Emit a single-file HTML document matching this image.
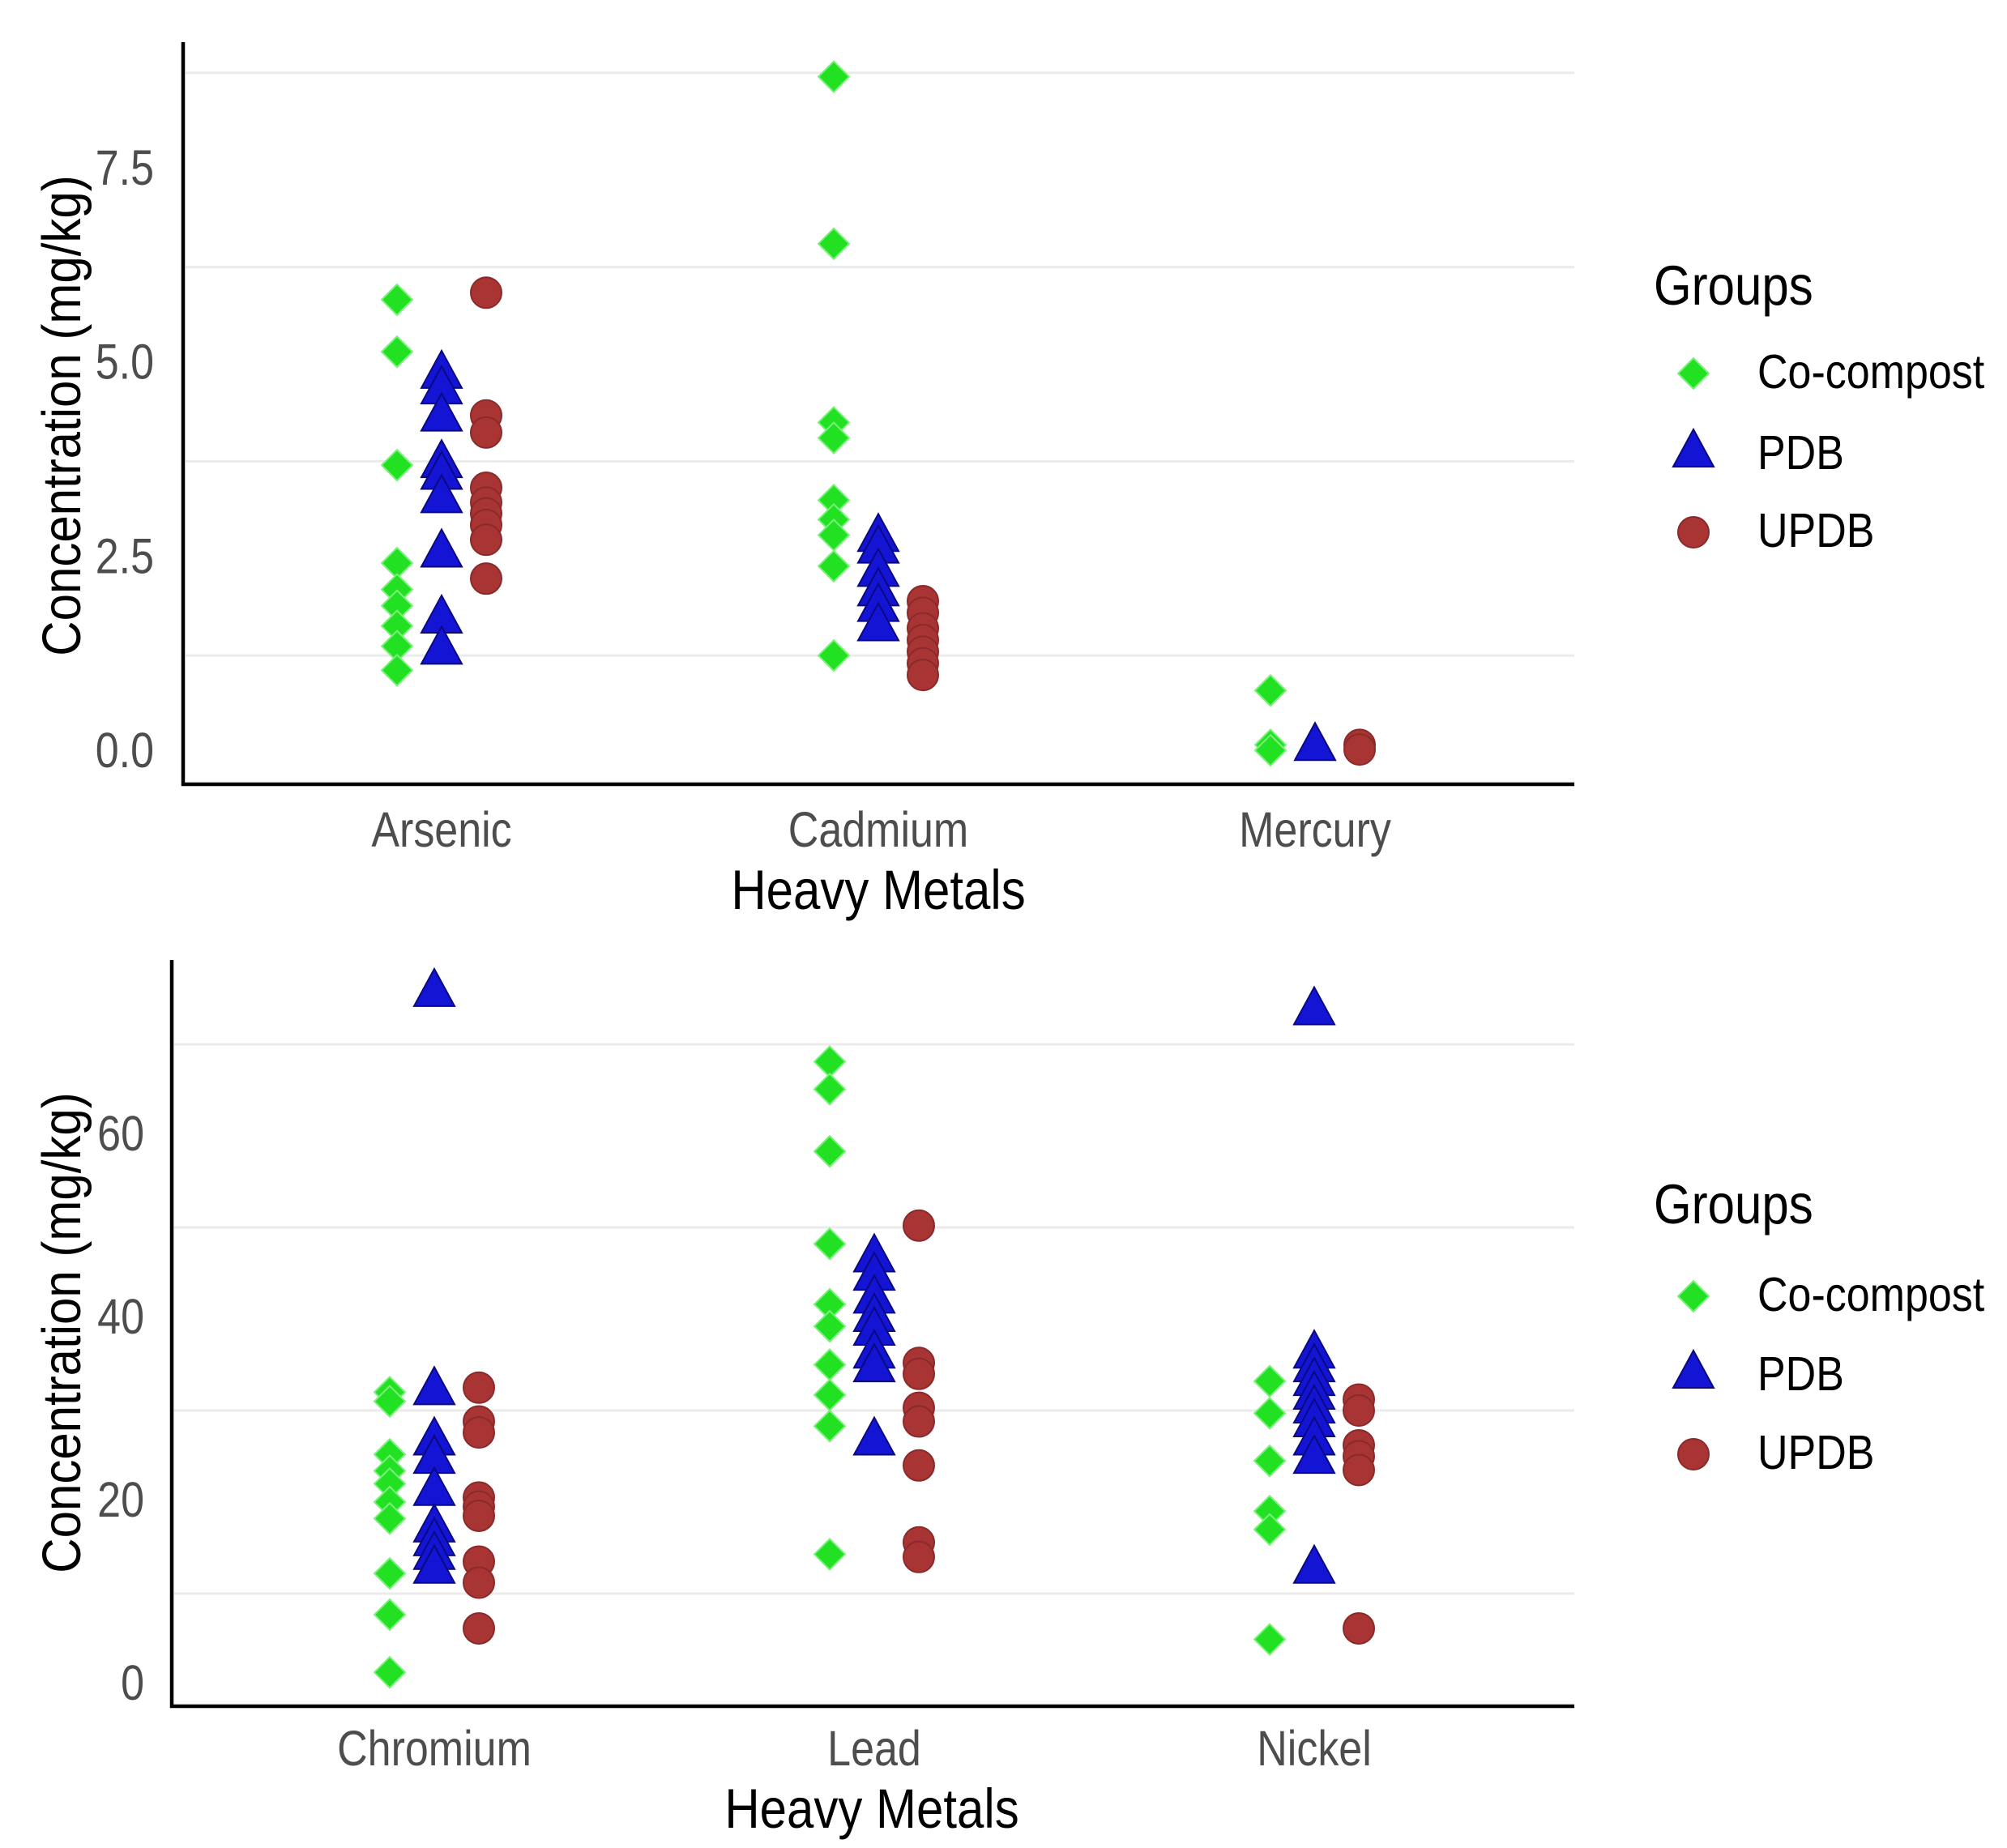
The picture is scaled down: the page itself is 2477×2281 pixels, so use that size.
<!DOCTYPE html>
<html>
<head>
<meta charset="utf-8">
<style>
  html,body{margin:0;padding:0;background:#fff;}
  svg{display:block;}
  text{font-family:"Liberation Sans",Arial,sans-serif;}
</style>
</head>
<body>
<svg id="chart" xmlns="http://www.w3.org/2000/svg" width="2477" height="2281" viewBox="0 0 2477 2281">
  <rect x="0" y="0" width="2477" height="2281" fill="#ffffff"/>
</svg>
<script>
// ---------- data ----------
const groups = ["Co-compost", "PDB", "UPDB"];
const topCategories = ["Arsenic", "Cadmium", "Mercury"];
const bottomCategories = ["Chromium", "Lead", "Nickel"];
const topTicks = [0, 2.5, 5, 7.5];
const topTickLabels = ["0.0", "2.5", "5.0", "7.5"];
const topGrid = [1.25, 3.75, 6.25, 8.75];
const bottomTicks = [0, 20, 40, 60];
const bottomTickLabels = ["0", "20", "40", "60"];
const bottomGrid = [10, 30, 50, 70];

const arsenicCo = [5.83, 5.16, 3.70, 2.44, 2.10, 1.89, 1.63, 1.37, 1.06];
const arsenicPDB = [4.85, 4.65, 4.30, 3.70, 3.55, 3.25, 2.55, 1.70, 1.30];
const arsenicUPDB = [5.92, 4.34, 4.12, 3.41, 3.22, 3.08, 2.93, 2.74, 2.24];
const cadmiumCo = [8.70, 6.55, 4.25, 4.05, 3.25, 3.00, 2.80, 2.40, 1.25];
const cadmiumPDB = [2.75, 2.60, 2.30, 2.05, 1.85, 1.60];
const cadmiumUPDB = [1.95, 1.80, 1.60, 1.45, 1.30, 1.15, 1.00];
const mercuryCo = [0.80, 0.10, 0.03];
const mercuryPDB = [0.06];
const mercuryUPDB = [0.10, 0.04];

const chromiumCo = [32.0, 31.0, 25.2, 23.4, 22.0, 20.0, 18.2, 12.2, 7.7, 1.4];
const chromiumPDB = [75.5, 32.0, 26.5, 24.5, 21.0, 17.0, 15.5, 14.0, 12.5];
const chromiumUPDB = [32.5, 28.8, 27.6, 20.5, 19.5, 18.5, 13.5, 11.2, 6.2];
const leadCo = [68.1, 65.1, 58.3, 48.2, 41.6, 39.2, 35.0, 31.7, 28.3, 14.3];
const leadPDB = [46.5, 44.5, 42.0, 40.0, 38.5, 36.0, 34.5, 26.5];
const leadUPDB = [50.2, 35.2, 34.0, 30.3, 28.8, 24.0, 15.6, 14.0];
const nickelCo = [33.2, 29.7, 24.5, 19.0, 17.0, 5.0];
const nickelPDB = [73.5, 36.0, 34.5, 33.0, 31.5, 30.0, 28.5, 26.5, 24.5, 12.5];
const nickelUPDB = [31.2, 30.0, 26.2, 25.0, 23.5, 6.2];

const topSeries = [[arsenicCo, arsenicPDB, arsenicUPDB],[cadmiumCo, cadmiumPDB, cadmiumUPDB],[mercuryCo, mercuryPDB, mercuryUPDB]];
const bottomSeries = [[chromiumCo, chromiumPDB, chromiumUPDB],[leadCo, leadPDB, leadUPDB],[nickelCo, nickelPDB, nickelUPDB]];

// ---------- drawing ----------
const NS = "http://www.w3.org/2000/svg";
const svg = document.getElementById("chart");
const COLORS = ["#22e022", "#1414d4", "#a83434"];
const STROKES = ["#44c844", "#0a0a80", "#8a2a2a"];

function mk(tag, attrs, parent){
  const e = document.createElementNS(NS, tag);
  for (const k in attrs) e.setAttribute(k, attrs[k]);
  (parent||svg).appendChild(e);
  return e;
}

function marker(g, gi, cx, cy, parent){
  let m;
  if (gi === 0){
    m = mk("polygon", {points:`${cx},${cy-19} ${cx+19},${cy} ${cx},${cy+19} ${cx-19},${cy}`, fill:COLORS[0], stroke:"#7cf07c", "stroke-width":2}, parent);
  } else if (gi === 1){
    m = mk("polygon", {points:`${cx},${cy-31} ${cx+25},${cy+15} ${cx-25},${cy+15}`, fill:COLORS[1], stroke:STROKES[1], "stroke-width":2}, parent);
  } else {
    m = mk("circle", {cx:cx, cy:cy, r:19, fill:COLORS[2], stroke:STROKES[2], "stroke-width":2}, parent);
  }
  return m;
}

function panel(cfg){
  const p = mk("g", {});
  
  
  const yS = v => cfg.y0 - v * cfg.k;
  const xS = i => cfg.xc0 + i * cfg.dx;
  cfg.grid.forEach(v => {
    const l = mk("line", {x1:cfg.left+3, x2:cfg.right, y1:yS(v), y2:yS(v), stroke:"#ebebeb", "stroke-width":3}, p);
    
    
  });
  cfg.ticks.forEach((v, i) => {
    const t = mk("text", {transform:`translate(${cfg.tickRight},${yS(v)+18}) scale(1,1.18)`, "text-anchor":"end", "font-size":52, fill:"#4d4d4d"}, p);
    t.textContent = cfg.tickLabels[i];
    
    
  });
  cfg.cats.forEach((c, i) => {
    const t = mk("text", {transform:`translate(${xS(i)},${cfg.catY}) scale(1,1.18)`, "text-anchor":"middle", "font-size":52, fill:"#4d4d4d"}, p);
    t.textContent = c;
    
    
  });
  cfg.series.forEach((cat, ci) => {
    cat.forEach((vals, gi) => {
      vals.forEach(v => {
        const m = marker(null, gi, xS(ci) + (gi-1)*cfg.off, yS(v), p);
        
        
      });
    });
  });
  const ax = mk("polyline", {points:`${cfg.left},${cfg.top} ${cfg.left},${cfg.bottom} ${cfg.right},${cfg.bottom}`, fill:"none", stroke:"#000", "stroke-width":4.5}, p);
  
  
  const xt = mk("text", {transform:`translate(${cfg.xTitleX},${cfg.xTitleY}) scale(1,1.15)`, "text-anchor":"middle", "font-size":60, fill:"#000"}, p);
  xt.textContent = "Heavy Metals";
  
  
  const yt = mk("text", {transform:`translate(${cfg.yTitleX},${cfg.yTitleY}) rotate(-90) scale(1,1.12)`, "text-anchor":"middle", "font-size":60, fill:"#000"}, p);
  yt.textContent = "Concentration (mg/kg)";
  
  
  const lg = mk("g", {}, p);
  
  
  const gt = mk("text", {transform:`translate(2041,${cfg.legTitleY}) scale(1,1.15)`, "font-size":60, fill:"#000"}, lg);
  gt.textContent = "Groups";
  
  
  groups.forEach((g, gi) => {
    const cy = cfg.legY[gi];
    const m = marker(null, gi, 2090, cy, lg);
    
    
    const t = mk("text", {transform:`translate(2169,${cy+18}) scale(1,1.15)`, "font-size":52, fill:"#000"}, lg);
    t.textContent = g;
    
    
  });
}

panel({name:"top-panel", left:226, right:1943, top:52, bottom:968, y0:929, k:95.9,
  xc0:545, dx:539, off:55, grid:topGrid, ticks:topTicks, tickLabels:topTickLabels, tickRight:190,
  cats:topCategories, series:topSeries, catY:1045, xTitleX:1084, xTitleY:1122, yTitleX:99, yTitleY:513,
  legTitleY:376, legY:[461,561,657]});

panel({name:"bottom-panel", left:212, right:1943, top:1185, bottom:2106, y0:2080, k:11.3,
  xc0:536, dx:543, off:55, grid:bottomGrid, ticks:bottomTicks, tickLabels:bottomTickLabels, tickRight:178,
  cats:bottomCategories, series:bottomSeries, catY:2179, xTitleX:1076, xTitleY:2256, yTitleX:99, yTitleY:1645,
  legTitleY:1510, legY:[1600,1698,1795]});
</script>
</body>
</html>
